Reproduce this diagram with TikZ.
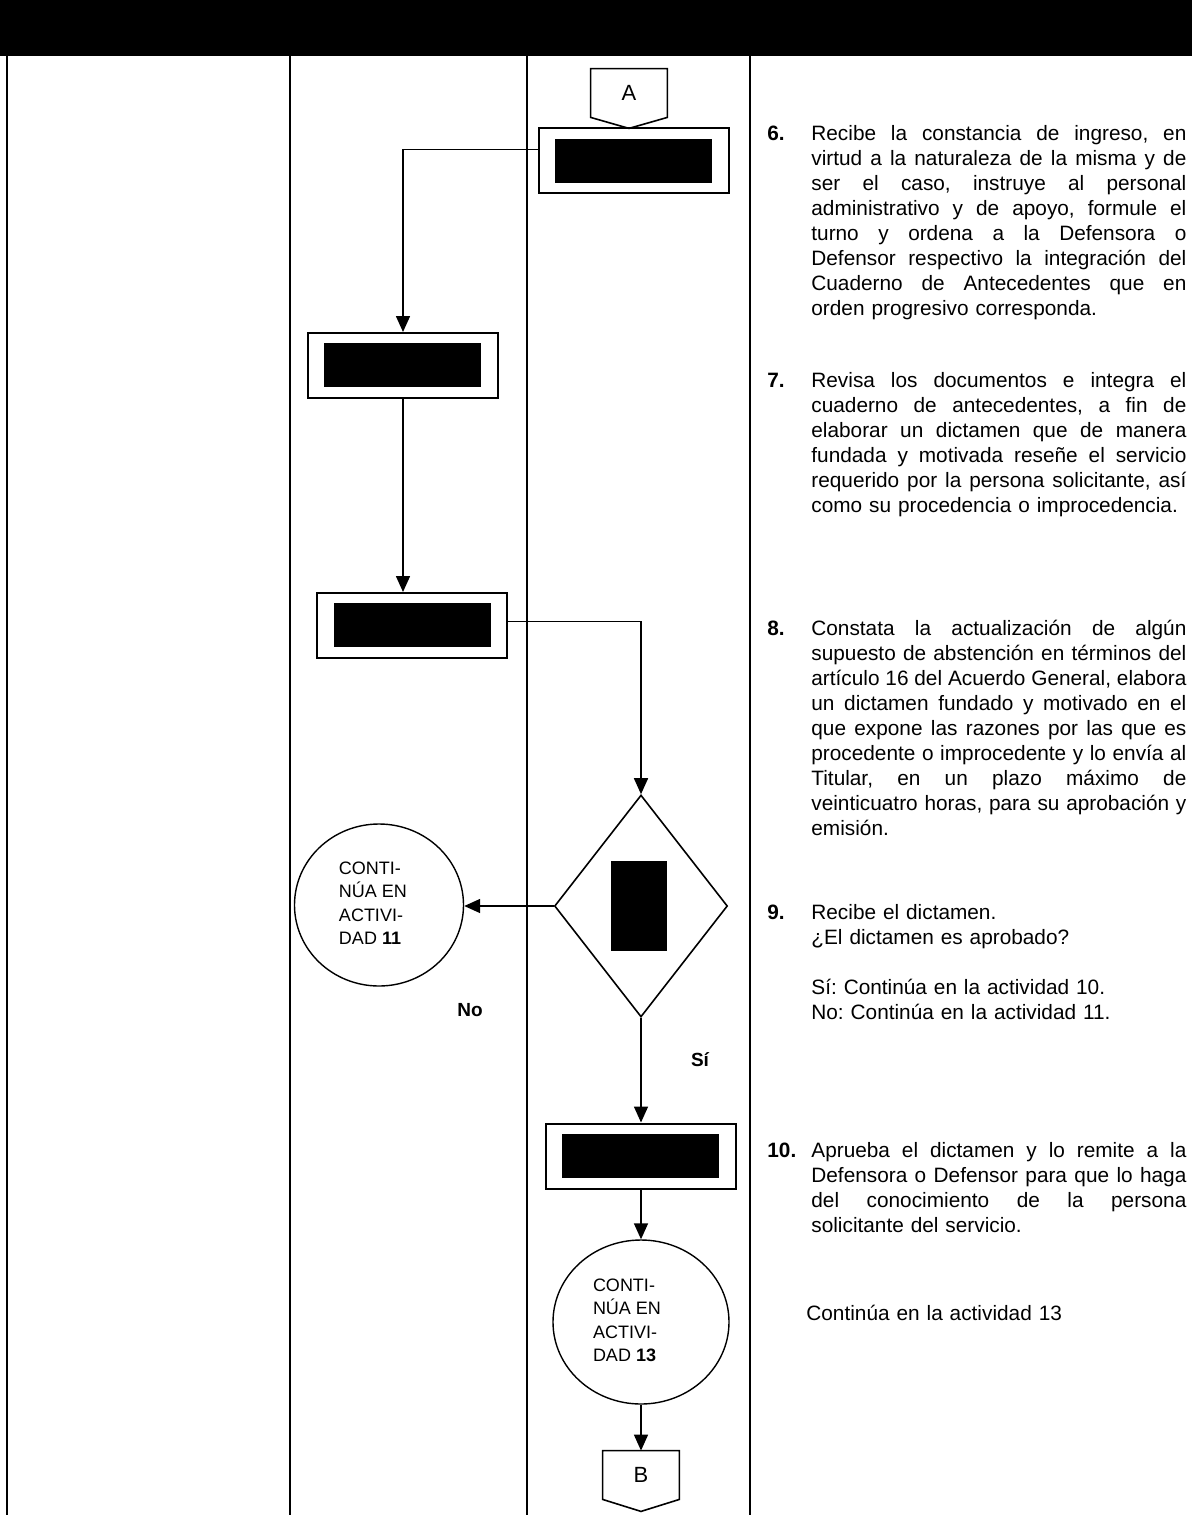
\documentclass[tikz,border=0pt]{standalone}
\usepackage{fontspec}
\setmainfont{Liberation Sans}
\usetikzlibrary{shapes.geometric,arrows.meta,calc}
\newcommand\jl[1]{\hbox to 187.5pt{\spaceskip=0.278em plus 1fil minus 0.05em\relax #1}}
\newcommand\ctext[2]{\begin{tabular}{@{}l@{\hspace{#2}}}#1\end{tabular}}
\begin{document}
\begin{tikzpicture}[x=0.5pt,y=-0.5pt,
  colline/.style={line width=1pt},
  procbox/.style={draw, line width=1pt, minimum width=95pt, minimum height=32.5pt, inner sep=0},
  redact/.style={fill=black, minimum width=78.5pt, minimum height=22pt, inner sep=0},
  conn/.style={line width=0.8pt},
  arr/.style={conn, -{Triangle[length=8pt,width=7pt]}},
  contc/.style={ellipse, draw, line width=0.7pt, inner sep=0, font=\fontsize{9}{11.7}\selectfont},
  offp/.style={minimum width=38pt, minimum height=24pt, inner sep=0, font=\fontsize{11}{13}\selectfont},
  bodytext/.style={anchor=base west, inner sep=0, text width=187.5pt, font=\fontsize{10.4}{12.5}\selectfont\frenchspacing},
  numtext/.style={anchor=base west, inner sep=0, font=\fontsize{10.4}{12.5}\selectfont\bfseries},
  yesno/.style={inner sep=0, font=\fontsize{9.5}{11}\selectfont\bfseries}
]
\useasboundingbox (0,0) rectangle (1192,1515);
% header band
\node[fill=black, minimum width=596pt, minimum height=28pt, inner sep=0, anchor=north west] (header) at (0,0) {};
% column lines
\draw[colline] (7,56) -- (7,1515);
\draw[colline] (290,56) -- (290,1515);
\draw[colline] (527,56) -- (527,1515);
\draw[colline] (750,56) -- (750,1515);

% off-page connector A
\node[offp] (A) at (629,93) {A};
\draw[conn] (A.north west) -- (A.north east) -- (A.south east) -- ($(A.south)+(0,11)$) -- (A.south west) -- cycle;

% process boxes
\node[procbox] (b1) at (634,160.5) {};
\node[redact] (r1) at (633.5,160.5) {};
\node[procbox] (b2) at (403,365.5) {};
\node[redact] (r2) at (402.5,365) {};
\node[procbox] (b3) at (412,625.5) {};
\node[redact] (r3) at (412,624.5) {};

% decision
\node[diamond, draw, line width=0.8pt, minimum width=86.5pt, minimum height=111pt, inner sep=0] (d) at (641,906) {};
\node[fill=black, minimum width=28pt, minimum height=45pt, inner sep=0] (rd) at (639,906) {};

\node[contc, minimum width=84.5pt, minimum height=81pt] (c1) at (379,905) {\ctext{CONTI-\\NÚA EN\\ACTIVI-\\DAD \textbf{11}}{6pt}};

\node[procbox] (b4) at (641,1156) {};
\node[redact] (r4) at (640.5,1155.5) {};

\node[contc, minimum width=88pt, minimum height=82pt] (c2) at (641,1322) {\ctext{CONTI-\\NÚA EN\\ACTIVI-\\DAD \textbf{13}}{14pt}};

% off-page connector B
\node[offp] (B) at (641,1475) {B};
\draw[conn] (B.north west) -- (B.north east) -- (B.south east) -- ($(B.south)+(0,12)$) -- (B.south west) -- cycle;

% connectors
\draw[arr] ([yshift=5.5pt]b1.west) -| (b2.north);
\draw[arr] (b2.south) -- (b2.south |- b3.north);
\draw[conn] ([yshift=2pt]b3.east) -| ($(d.north)+(0,-17)$);
\draw[arr] ($(d.north)+(0,-17)$) -- (d.north);
\draw[arr] (d.west) -- (d.west -| c1.east);
\draw[arr] (d.south) -- (b4.north);
\draw[arr] (b4.south) -- (c2.north);
\draw[arr] (c2.south) -- (B.north);

\node[yesno] (no) at (470,1010) {No};
\node[yesno] (si) at (700,1060) {Sí};

% descriptions
\node[numtext] (n6) at (767,140) {6.};
\node[bodytext] (t6) at (811,140) {\jl{Recibe la constancia de ingreso, en}
\jl{virtud a la naturaleza de la misma y de}
\jl{ser el caso, instruye al personal}
\jl{administrativo y de apoyo, formule el}
\jl{turno y ordena a la Defensora o}
\jl{Defensor respectivo la integración del}
\jl{Cuaderno de Antecedentes que en}
\hbox{orden progresivo corresponda.}};

\node[numtext] (n7) at (767,387) {7.};
\node[bodytext] (t7) at (811,387) {\jl{Revisa los documentos e integra el}
\jl{cuaderno de antecedentes, a fin de}
\jl{elaborar un dictamen que de manera}
\jl{fundada y motivada reseñe el servicio}
\jl{requerido por la persona solicitante, así}
\hbox{como su procedencia o improcedencia.}};

\node[numtext] (n8) at (767,635) {8.};
\node[bodytext] (t8) at (811,635) {\jl{Constata la actualización de algún}
\jl{supuesto de abstención en términos del}
\jl{artículo 16 del Acuerdo General, elabora}
\jl{un dictamen fundado y motivado en el}
\jl{que expone las razones por las que es}
\jl{procedente o improcedente y lo envía al}
\jl{Titular, en un plazo máximo de}
\jl{veinticuatro horas, para su aprobación y}
\hbox{emisión.}};

\node[numtext] (n9) at (767,919) {9.};
\node[bodytext] (t9) at (811,919) {\hbox{Recibe el dictamen.}
\hbox{¿El dictamen es aprobado?}
\vskip 12.5pt
\hbox{Sí: Continúa en la actividad 10.}
\hbox{No: Continúa en la actividad 11.}};

\node[numtext] (n10) at (767,1157) {10.};
\node[bodytext] (t10) at (811,1157) {\jl{Aprueba el dictamen y lo remite a la}
\jl{Defensora o Defensor para que lo haga}
\jl{del conocimiento de la persona}
\hbox{solicitante del servicio.}};

\node[bodytext] (t13) at (806,1320) {\hbox{Continúa en la actividad 13}};
\end{tikzpicture}
\end{document}
